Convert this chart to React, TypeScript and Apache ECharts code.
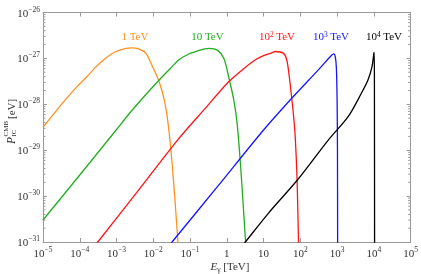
import React, { useEffect, useRef } from "react";
import * as echarts from "echarts";

// log10(E_gamma / TeV), log10(P / eV)
const tev1: [number, number][] = [
  [-5.0, -28.5], [-4.68, -28.18], [-4.36, -27.87], [-4.08, -27.62], [-3.82, -27.41],
  [-3.58, -27.2], [-3.38, -27.05], [-3.15, -26.91], [-2.92, -26.82],
  [-2.59, -26.77], [-2.38, -26.8], [-2.2, -26.89], [-2.02, -27.18], [-1.84, -27.51], [-1.7, -27.91],
  [-1.61, -28.34], [-1.52, -29.0], [-1.43, -29.87], [-1.33, -31.0], [-1.29, -31.5],
];
const tev10: [number, number][] = [
  [-5.0, -30.52], [-4.0, -29.54], [-3.01, -28.56], [-2.65, -28.2], [-2.25, -27.83],
  [-1.84, -27.47], [-1.55, -27.23],
  [-1.3, -27.03], [-1.05, -26.91], [-0.85, -26.85], [-0.49, -26.78], [-0.26, -26.82], [-0.08, -27.0],
  [0.05, -27.4], [0.19, -27.91], [0.28, -28.41], [0.37, -29.29], [0.46, -30.37],
  [0.51, -31.0], [0.54, -31.5],
];
const tev100: [number, number][] = [
  [-3.8, -31.3], [-3.51, -31.0], [-2.4, -29.87], [-1.34, -28.78], [-0.6, -28.1],
  [0.05, -27.51], [0.45, -27.23], [0.78, -27.03], [1.0, -26.94], [1.22, -26.88], [1.32, -26.85], [1.54, -26.89],
  [1.63, -27.03], [1.7, -27.4], [1.76, -27.83], [1.81, -28.2], [1.86, -28.7],
  [1.91, -29.6], [1.95, -31.0], [1.96, -31.5],
];
const tev1000: [number, number][] = [
  [-1.8, -31.3], [-1.49, -31.0], [-0.25, -29.79], [1.0, -28.56], [1.81, -27.83],
  [2.49, -27.25], [2.85, -26.93], [2.91, -26.9], [2.95, -26.96], [2.98, -27.2],
  [3.0, -27.9], [3.01, -29.0], [3.015, -31.5],
];
const tev10000: [number, number][] = [
  [0.2, -31.3], [0.505, -31.0], [1.135, -30.37], [1.92, -29.65], [2.76, -28.78],
  [3.3, -28.27], [3.66, -27.76], [3.84, -27.47], [3.95, -27.18], [4.0, -26.89],
  [4.01, -26.87], [4.015, -27.5], [4.02, -31.5],
];

const seriesNames = ["1 TeV", "10 TeV", "10{s|2} TeV", "10{s|3} TeV", "10{s|4} TeV"];
const seriesData = [tev1, tev10, tev100, tev1000, tev10000];
const seriesColors = ["#ff921f", "#1fae1f", "#ff1414", "#1414ff", "#000000"];

const xDecades = [-5, 5];
const yDecades = [-31, -26];
const minorMultipliers = [2, 3, 4, 5, 6, 7, 8, 9];

const SERIF = "'Liberation Serif', 'DejaVu Serif', serif";

function powLabel(v: number): string {
  if (v === 0) return "{b|1}";
  if (v === 1) return "{b|10}";
  const e = v < 0 ? "\u2212" + -v : String(v);
  return "{b|10}{s|" + e + "}";
}

const labelRich = {
  b: { fontSize: 11, lineHeight: 15, fontFamily: SERIF, color: "#333" },
  s: { fontSize: 7.5, lineHeight: 8, verticalAlign: "top", fontFamily: SERIF, color: "#333" },
};

export default function App() {
  const ref = useRef<HTMLDivElement>(null);
  useEffect(() => {
    if (!ref.current) return;
    const chart = echarts.init(ref.current, null, { renderer: "svg" });

    const minorVals: number[][] = [];
    for (let d = yDecades[0]; d < yDecades[1]; d++) {
      for (const m of minorMultipliers) minorVals.push([xDecades[0], d + Math.log10(m)]);
    }

    const axisLineStyle = { color: "#9a9a9a", width: 1 };
    const labelPos = [135, 207.5, 277, 331, 384];

    const baseAxis = (extra: any) => ({
      type: "value",
      axisLine: { onZero: false, lineStyle: axisLineStyle },
      axisTick: { inside: true, length: 4, lineStyle: axisLineStyle },
      splitLine: { show: false },
      interval: 1,
      ...extra,
    });

    const option: any = {
      animation: false,
      grid: { left: 43, right: 8, top: 12.5, bottom: 32 },
      xAxis: [
        baseAxis({ min: xDecades[0], max: xDecades[1], position: "bottom",
          axisLabel: { margin: 3, formatter: powLabel, rich: labelRich } }),
        baseAxis({ min: xDecades[0], max: xDecades[1], position: "top", axisLabel: { show: false } }),
      ],
      yAxis: [
        baseAxis({ min: yDecades[0], max: yDecades[1], position: "left",
          axisLabel: { margin: 3, formatter: powLabel, rich: labelRich } }),
        baseAxis({ min: yDecades[0], max: yDecades[1], position: "right", axisLabel: { show: false } }),
      ],
      series: [
        ...seriesData.map((d, i) => ({
          type: "line",
          data: d,
          xAxisIndex: 0, yAxisIndex: 0,
          showSymbol: false, symbol: "none",
          smooth: 0.3,
          clip: true,
          lineStyle: { color: seriesColors[i], width: 1.3 },
          silent: true,
        })),
        {
          type: "custom",
          xAxisIndex: 0, yAxisIndex: 0,
          silent: true, clip: false,
          data: minorVals,
          renderItem: (params: any, api: any) => {
            const y = api.value(1);
            const l = api.coord([xDecades[0], y]);
            const r = api.coord([xDecades[1], y]);
            return {
              type: "group",
              children: [
                { type: "line", shape: { x1: l[0], y1: l[1], x2: l[0] + 2.5, y2: l[1] }, style: { stroke: "#9a9a9a", lineWidth: 1 } },
                { type: "line", shape: { x1: r[0], y1: r[1], x2: r[0] - 2.5, y2: r[1] }, style: { stroke: "#9a9a9a", lineWidth: 1 } },
              ],
            };
          },
        },
      ],
      graphic: [
        ...seriesNames.map((n, i) => ({
          type: "text",
          x: labelPos[i], y: 36,
          silent: true,
          style: {
            text: n,
            fill: seriesColors[i],
            fontSize: 11, fontFamily: SERIF,
            align: "center", verticalAlign: "middle",
            textAlign: "center", textVerticalAlign: "middle",
            rich: {
              s: { fontSize: 7.5, lineHeight: 8, verticalAlign: "top", fontFamily: SERIF, fill: seriesColors[i] },
            },
          },
        })),
        {
          type: "text", x: 230, y: 266, silent: true,
          style: {
            text: "{i|E}{g|\u03b3}{b| [TeV]}",
            fill: "#333", fontSize: 11, fontFamily: SERIF,
            align: "center", verticalAlign: "middle", textAlign: "center", textVerticalAlign: "middle",
            rich: {
              i: { fontSize: 11, fontStyle: "italic", lineHeight: 14, fontFamily: SERIF, fill: "#333" },
              g: { fontSize: 7.5, lineHeight: 8, verticalAlign: "bottom", fontFamily: SERIF, fill: "#333" },
              b: { fontSize: 11, lineHeight: 14, fontFamily: SERIF, fill: "#333" },
            },
          },
        },
        {
          type: "group", x: 11, y: 122, rotation: Math.PI / 2, silent: true,
          children: [
            { type: "text", x: -22, y: 0, style: { text: "P", fontSize: 11.5, fontStyle: "italic", fontFamily: SERIF, fill: "#333", align: "left", verticalAlign: "middle" } },
            { type: "text", x: -14.5, y: -5, style: { text: "CMB", fontSize: 7, fontFamily: SERIF, fill: "#333", align: "left", verticalAlign: "middle" } },
            { type: "text", x: -14.5, y: 2.5, style: { text: "IC", fontSize: 7, fontFamily: SERIF, fill: "#333", align: "left", verticalAlign: "middle" } },
            { type: "text", x: 3, y: 0, style: { text: "[eV]", fontSize: 11, fontFamily: SERIF, fill: "#333", align: "left", verticalAlign: "middle" } },
          ],
        },
      ],
    };
    chart.setOption(option);
    return () => chart.dispose();
  }, []);
  return (
    <div
      ref={ref}
      style={{ position: "fixed", left: 0, top: 0, width: 421, height: 274 }}
    />
  );
}
